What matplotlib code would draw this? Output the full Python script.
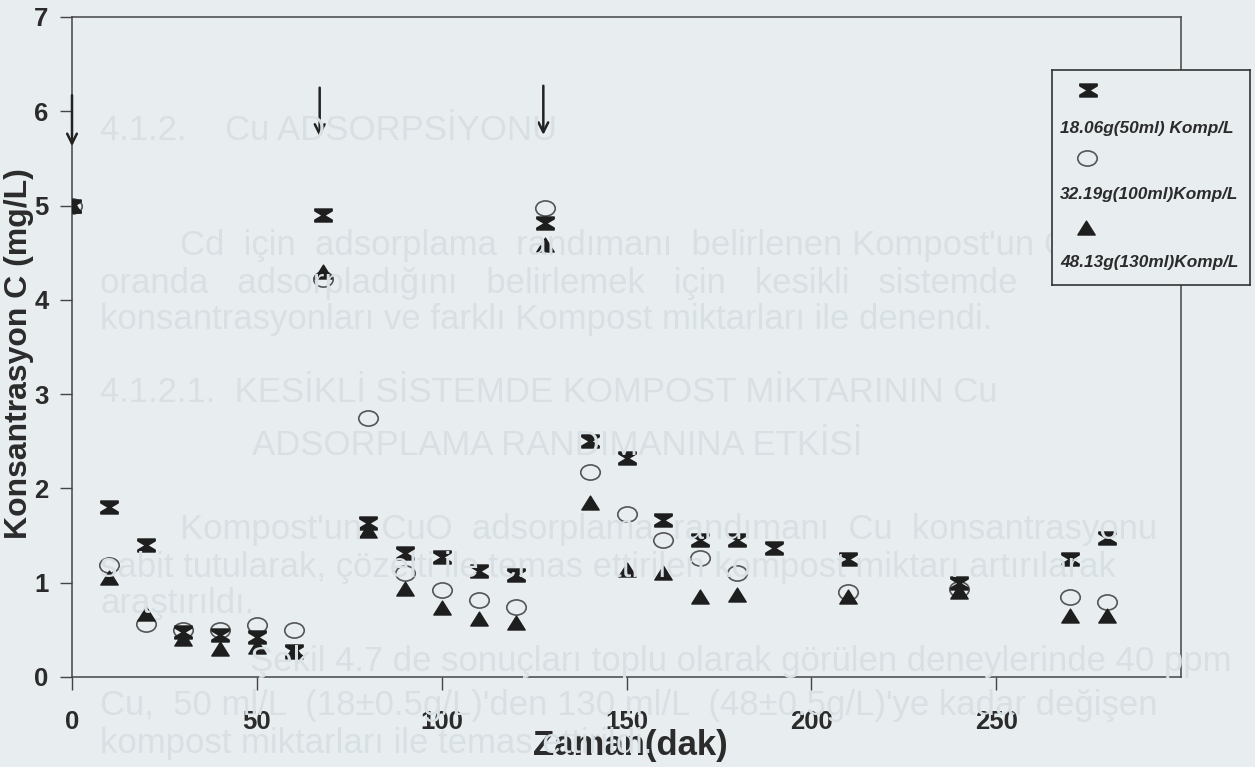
import numpy as np
import matplotlib
matplotlib.use("Agg")
import matplotlib.pyplot as plt
from matplotlib.path import Path

# ---------------- data ----------------
time_min = [0, 10, 20, 30, 40, 50, 60, 68, 80, 90, 100, 110, 120, 128,
            140, 150, 160, 170, 180, 190, 210, 240, 270, 280]
c_18g = [5.0, 1.80, 1.40, 0.48, 0.45, 0.42, 0.28, 4.90, 1.63, 1.32, 1.27, 1.12,
         1.08, 4.82, 2.50, 2.32, 1.66, 1.45, 1.45, 1.37, 1.25, 1.00, 1.25, 1.47]
c_32g = [5.0, 1.19, 0.56, 0.50, 0.50, 0.55, 0.50, 4.22, 2.75, 1.10, 0.92, 0.82,
         0.74, 4.97, 2.17, 1.73, 1.45, 1.26, 1.10, np.nan, 0.90, 0.93, 0.85, 0.80]
c_48g = [5.0, 1.05, 0.67, 0.40, 0.30, 0.32, 0.27, 4.30, 1.55, 0.93, 0.73, 0.62,
         0.57, 4.58, 1.85, 1.13, 1.10, 0.85, 0.87, np.nan, 0.85, 0.90, 0.65, 0.65]
series_labels = ["18.06g(50ml) Komp/L", "32.19g(100ml)Komp/L", "48.13g(130ml)Komp/L"]

# arrows marking Cu additions
arrow_times = [0, 67, 127.5]
arrow_top = [6.20, 6.28, 6.30]
arrow_bottom = [5.60, 5.70, 5.72]

x_ticks = [0, 50, 100, 150, 200, 250]
y_ticks = [0, 1, 2, 3, 4, 5, 6, 7]

ghost_lines = [
    (100, 130, "4.1.2.    Cu ADSORPSİYONU"),
    (180, 245, "Cd  için  adsorplama  randımanı  belirlenen Kompost'un CuO  ne"),
    (100, 283, "oranda   adsorpladığını   belirlemek   için   kesikli   sistemde"),
    (100, 320, "konsantrasyonları ve farklı Kompost miktarları ile denendi."),
    (100, 393, "4.1.2.1.  KESİKLİ SİSTEMDE KOMPOST MİKTARININ Cu"),
    (252, 445, "ADSORPLAMA RANDIMANINA ETKİSİ"),
    (180, 530, "Kompost'un  CuO  adsorplama  randımanı  Cu  konsantrasyonu"),
    (100, 568, "sabit tutularak, çözelti ile temas ettirilen kompost miktarı artırılarak"),
    (100, 603, "araştırıldı."),
    (250, 662, "Şekil 4.7 de sonuçları toplu olarak görülen deneylerinde 40 ppm"),
    (100, 705, "Cu,  50 ml/L  (18±0.5g/L)'den 130 ml/L  (48±0.5g/L)'ye kadar değişen"),
    (100, 744, "kompost miktarları ile temas ettirildi."),
]

# ---------------- markers ----------------
hourglass = Path([(-1, 0.75), (1, 0.75), (1, 0.52), (0.12, 0.0), (1, -0.52),
                  (1, -0.75), (-1, -0.75), (-1, -0.52), (-0.12, 0.0), (-1, 0.52),
                  (-1, 0.75)], closed=True)
uc = Path.unit_circle()
ellipse = Path(uc.vertices * np.array([1.0, 0.78]), uc.codes)
tri = Path([(0, 0.85), (1, -0.75), (-1, -0.75), (0, 0.85)], closed=True)

BG = "#e8edf0"
INK = "#2b2b2b"

fig = plt.figure(figsize=(12.55, 7.67), dpi=100, facecolor=BG)

# very faint bleed-through text of the scanned page
for gx, gy, gt in ghost_lines:
    fig.text(gx / 1255, 1 - gy / 767, gt, fontsize=25, color="#d9e0e4",
             family="Liberation Sans", ha="left", va="center", zorder=0)

ax = fig.add_axes([72 / 1255, 1 - 677 / 767, (1181 - 72) / 1255, (677 - 17) / 767])
ax.set_facecolor("none")
ax.set_xlim(0, 300)
ax.set_ylim(0, 7)

ax.plot(time_min, c_18g, linestyle="none", marker=hourglass, markersize=12.5,
        color="#1e1e1e", zorder=4)
ax.plot(time_min, c_32g, linestyle="none", marker=ellipse, markersize=14,
        markerfacecolor="none", markeredgecolor="#555555", markeredgewidth=1.2, zorder=3)
ax.plot(time_min, c_48g, linestyle="none", marker=tri, markersize=12.5,
        color="#1e1e1e", zorder=5)

for xa, yt, yb in zip(arrow_times, arrow_top, arrow_bottom):
    ax.annotate("", xy=(xa, yb), xytext=(xa, yt),
                arrowprops=dict(arrowstyle="->,head_length=0.7,head_width=0.35",
                                color="#222222", lw=1.8), zorder=6, annotation_clip=False)

ax.set_xticks(x_ticks)
ax.set_yticks(y_ticks)
ax.tick_params(axis="both", direction="out", length=9, width=1.0, colors="#444444",
               labelcolor=INK, labelsize=18.5)
ax.tick_params(axis="x", pad=15)
ax.tick_params(axis="y", pad=8)
for lab in ax.get_xticklabels() + ax.get_yticklabels():
    lab.set_fontweight("bold")
    lab.set_family("Liberation Sans")
for sp in ax.spines.values():
    sp.set_color("#444444")
    sp.set_linewidth(1.1)

xl = ax.set_xlabel("Zaman(dak)", fontsize=25, fontweight="bold", color=INK,
                   family="Liberation Sans", labelpad=0)
xl.set_verticalalignment("center")
ax.xaxis.set_label_coords((630 - 72) / (1181 - 72), -(745 - 677) / (677 - 17))
yl = ax.set_ylabel("Konsantrasyon C (mg/L)", fontsize=23, fontweight="bold", color=INK,
                   family="Liberation Sans")
yl.set_verticalalignment("center")
ax.yaxis.set_label_coords(-(72 - 19) / (1181 - 72), (677 - 354) / (677 - 17))

# ---------------- legend box (markers above labels) ----------------
L, R, T, B = 1052, 1250, 70, 285
lax = fig.add_axes([L / 1255, 1 - B / 767, (R - L) / 1255, (B - T) / 767])
lax.set_facecolor(BG)
lax.set_xlim(L, R)
lax.set_ylim(B, T)
lax.set_xticks([])
lax.set_yticks([])
for sp in lax.spines.values():
    sp.set_color("#333333")
    sp.set_linewidth(1.2)
lax.set_zorder(10)

legend_marker_y = [90, 158, 228]
legend_text_y = [128, 195, 262]
lax.plot([1088], [legend_marker_y[0]], linestyle="none", marker=hourglass,
         markersize=12.5, color="#1e1e1e")
lax.plot([1087], [legend_marker_y[1]], linestyle="none", marker=ellipse,
         markersize=14, markerfacecolor="none", markeredgecolor="#555555",
         markeredgewidth=1.2)
lax.plot([1086], [legend_marker_y[2]], linestyle="none", marker=tri,
         markersize=12.5, color="#1e1e1e")
for ty, lab in zip(legend_text_y, series_labels):
    lax.text(1060, ty, lab, fontsize=12.4, fontweight="bold", fontstyle="italic",
             color=INK, family="Liberation Sans", ha="left", va="center")

fig.savefig("out.png", dpi=100, facecolor=BG)
